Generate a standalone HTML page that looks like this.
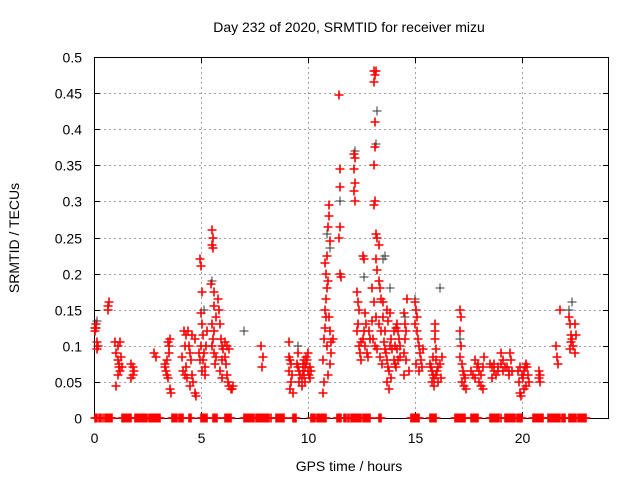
<!DOCTYPE html>
<html><head><meta charset="utf-8"><style>
html,body{margin:0;padding:0;background:#fff;}
svg{display:block;font-family:"Liberation Sans",sans-serif;}
</style></head><body>
<svg id="chart" width="640" height="480" viewBox="0 0 640 480">
<rect width="640" height="480" fill="#fff"/>
<g id="grid"></g>
<g id="ticks"></g>
<rect x="94.5" y="57.5" width="514" height="361" fill="none" stroke="#000" stroke-width="1"/>
<g id="marks"></g>
<text x="349" y="32" text-anchor="middle" font-size="14">Day 232 of 2020, SRMTID for receiver mizu</text>
<text x="349" y="471" text-anchor="middle" font-size="14">GPS time / hours</text>
<text transform="translate(19,238) rotate(-90)" text-anchor="middle" font-size="14">SRMTID / TECUs</text>
</svg>
<script>
const xTicks = [0, 5, 10, 15, 20];
const yTicks = [0, 0.05, 0.1, 0.15, 0.2, 0.25, 0.3, 0.35, 0.4, 0.45, 0.5];
const yTickLabels = ["0","0.05","0.1","0.15","0.2","0.25","0.3","0.35","0.4","0.45","0.5"];
const zeroHours = [0.05,0.1,0.15,0.25,0.3,0.35,0.4,0.5,0.55,0.6,0.65,0.7,0.75,0.8,0.85,1.3,1.35,1.4,1.45,1.5,1.55,1.6,1.65,1.7,1.75,1.9,1.95,2.0,2.05,2.1,2.15,2.2,2.25,2.3,2.35,2.4,2.45,2.5,2.55,2.6,2.65,2.7,2.75,2.8,2.85,2.9,2.95,3.0,3.05,3.1,3.65,3.7,3.75,3.8,3.85,3.9,3.95,4.0,4.05,4.1,4.15,4.45,4.5,4.55,5.0,5.05,5.1,5.15,5.2,5.25,5.3,5.55,5.6,5.65,5.7,5.75,6.1,6.15,6.2,6.25,6.3,6.35,6.4,7.0,7.05,7.1,7.15,7.2,7.25,7.3,7.35,7.4,7.45,7.5,7.55,7.6,7.65,7.7,7.75,7.8,7.85,7.9,7.95,8.0,8.05,8.1,8.15,8.2,8.25,8.5,8.55,8.6,8.65,8.7,8.75,8.8,8.85,8.9,9.3,9.35,9.4,9.45,10.15,10.2,10.25,10.3,10.35,10.4,10.45,10.5,10.55,10.6,10.65,10.7,10.75,10.8,10.85,11.35,11.4,11.45,11.5,11.55,11.7,11.75,11.8,11.85,11.9,12.0,12.05,12.1,12.15,12.2,12.25,12.3,12.35,12.4,12.45,12.5,12.55,12.6,12.65,12.7,12.75,12.8,12.85,12.9,13.3,13.35,13.4,14.8,14.85,14.9,14.95,15.0,15.05,15.1,15.15,15.2,15.7,15.75,15.8,15.85,15.9,15.95,16.0,16.85,16.9,16.95,17.0,17.05,17.1,17.15,17.2,17.25,17.3,17.35,17.6,17.65,17.7,17.75,17.8,17.85,17.9,17.95,18.5,18.55,18.6,18.65,18.7,18.75,18.8,18.85,18.9,18.95,19.0,19.2,19.25,19.3,19.35,19.4,19.45,19.5,19.55,19.6,19.65,19.7,19.75,19.8,19.85,19.9,19.95,20.0,20.5,20.55,20.6,20.65,20.7,20.75,20.8,20.85,20.9,20.95,21.0,21.2,21.25,21.3,21.35,21.4,21.45,21.5,21.55,21.6,21.65,21.7,21.75,21.8,21.85,21.9,21.95,22.0,22.2,22.25,22.3,22.35,22.4,22.45,22.5,22.55,22.6,22.65,22.7,22.75,22.8,22.85,22.9,22.95,23.0];
const blackHours = [0.1,5.5,5.1,10.9,10.85,11.5,12.2,13.2,13.15,12.6,13.6,14.5,15.0,16.15,17.1,22.3,22.2,7.0,11.0,13.5,9.5,13.8];
const blackValues = [0.135,0.19,0.15,0.265,0.255,0.3,0.37,0.425,0.38,0.195,0.225,0.14,0.165,0.18,0.11,0.16,0.15,0.12,0.235,0.22,0.1,0.18];
const redPoints = [
[0.05,0.12],[0.1,0.125],[0.1,0.13],[0.15,0.105],[0.2,0.1],[0.15,0.095],[0.05,0.125],
[0.65,0.15],[0.7,0.16],[0.65,0.155],
[1.0,0.105],[1.1,0.1],[1.2,0.105],[1.05,0.09],[1.1,0.08],[1.15,0.07],[1.2,0.065],[1.1,0.06],[1.05,0.045],[1.25,0.085],[1.15,0.075],[1.3,0.07],
[1.75,0.075],[1.8,0.07],[1.85,0.065],[1.8,0.06],[1.75,0.055],
[2.8,0.09],[2.9,0.085],
[3.3,0.07],[3.35,0.065],[3.4,0.06],[3.45,0.105],[3.5,0.1],[3.55,0.11],[3.5,0.09],[3.4,0.08],[3.55,0.04],[3.6,0.035],[3.45,0.055],[3.3,0.075],
[4.1,0.085],[4.2,0.12],[4.3,0.115],[4.25,0.1],[4.15,0.065],[4.25,0.06],[4.35,0.055],[4.3,0.07],[4.45,0.1],[4.5,0.09],[4.55,0.08],[4.6,0.06],[4.65,0.05],[4.7,0.035],[4.75,0.03],[4.5,0.045],[4.6,0.115],[4.7,0.11],[4.4,0.12],
[4.95,0.22],[5.0,0.21],[5.05,0.175],[5.0,0.145],[5.05,0.13],[5.1,0.115],[5.0,0.1],[5.15,0.09],[5.1,0.08],[5.2,0.07],[5.25,0.1],[4.9,0.09],[4.95,0.08],[5.3,0.12],[5.2,0.06],[5.05,0.065],
[5.5,0.26],[5.55,0.25],[5.55,0.235],[5.5,0.24],[5.45,0.185],[5.6,0.175],[5.5,0.13],[5.6,0.12],[5.55,0.11],[5.5,0.1],[5.6,0.09],[5.7,0.085],[5.65,0.075],[5.7,0.14],[5.6,0.155],
[5.8,0.165],[5.85,0.15],[5.9,0.13],[5.95,0.11],[6.0,0.1],[6.05,0.095],[6.1,0.085],[6.0,0.08],[6.15,0.075],[6.2,0.06],[6.25,0.05],[6.3,0.045],[6.4,0.04],[6.5,0.045],[6.45,0.04],[6.1,0.105],[6.2,0.1],[6.3,0.095],[5.9,0.065],[6.0,0.055],
[7.8,0.1],[7.9,0.085],[7.85,0.07],
[9.1,0.085],[9.15,0.08],[9.2,0.075],[9.1,0.065],[9.25,0.06],[9.2,0.05],[9.15,0.04],[9.3,0.035],[9.1,0.105],
[9.5,0.075],[9.55,0.07],[9.6,0.065],[9.65,0.06],[9.7,0.055],[9.75,0.065],[9.8,0.06],[9.85,0.07],[9.9,0.075],[9.95,0.08],[10.0,0.065],[10.05,0.06],[10.1,0.055],[9.6,0.05],[9.7,0.045],[9.8,0.08],[9.9,0.085],[10.0,0.09],[10.1,0.07],[9.55,0.09],[9.75,0.075],[9.85,0.05],[10.15,0.065],
[10.7,0.035],[10.75,0.05],[10.7,0.08],[10.75,0.11],[10.8,0.125],[10.85,0.14],[10.8,0.15],[10.85,0.165],[10.9,0.18],[10.85,0.2],[10.8,0.215],[10.9,0.225],[10.95,0.19],[11.0,0.295],[11.0,0.28],[10.95,0.265],[11.05,0.245],[11.0,0.14],[11.05,0.12],[10.9,0.1],[11.1,0.09],[11.05,0.075],[10.95,0.06],[11.15,0.11],[11.1,0.105],
[11.5,0.345],[11.5,0.32],[11.5,0.265],[11.45,0.25],[11.5,0.2],[11.55,0.195],[11.45,0.448],
[12.15,0.365],[12.2,0.36],[12.15,0.345],[12.2,0.325],[12.15,0.315],[12.2,0.3],
[12.3,0.175],[12.35,0.16],[12.4,0.15],[12.35,0.13],[12.3,0.12],[12.4,0.1],[12.45,0.09],[12.5,0.08],[12.55,0.11],[12.6,0.12],[12.65,0.145],[12.7,0.13],[12.6,0.22],[12.55,0.225],[12.65,0.1],[12.75,0.09],[12.8,0.085],[12.85,0.12],[12.9,0.11],[12.5,0.105],
[13.1,0.48],[13.15,0.475],[13.2,0.48],[13.1,0.465],[13.15,0.41],[13.15,0.375],[13.1,0.35],[13.15,0.3],[13.1,0.295],[13.2,0.255],[13.25,0.25],[13.3,0.24],[13.2,0.22],[13.25,0.205],[13.3,0.19],[13.35,0.18],[13.0,0.18],[13.1,0.16],[13.2,0.14],[13.3,0.13],[13.4,0.12],[13.05,0.11],[13.15,0.1],[13.25,0.095],[13.35,0.085],[13.45,0.075],[13.0,0.135],[13.4,0.165],[13.5,0.16],[13.5,0.14],
[13.55,0.105],[13.6,0.095],[13.65,0.09],[13.7,0.08],[13.75,0.07],[13.8,0.065],[13.85,0.1],[13.9,0.11],[13.95,0.095],[14.0,0.08],[14.05,0.075],[14.1,0.07],[13.7,0.05],[13.8,0.04],[13.9,0.055],[14.0,0.12],[14.1,0.125],[14.15,0.13],[14.2,0.12],[14.25,0.11],[14.3,0.1],[14.2,0.08],[14.3,0.085],[13.6,0.12],[13.75,0.135],[13.85,0.145],[13.7,0.15],[14.05,0.1],[14.15,0.095],
[14.5,0.145],[14.55,0.13],[14.6,0.12],[14.55,0.11],[14.65,0.165],[14.5,0.09],[14.6,0.08],[14.7,0.065],[14.5,0.06],
[15.0,0.16],[15.05,0.15],[15.1,0.14],[15.0,0.13],[15.1,0.12],[15.15,0.11],[15.2,0.1],[15.25,0.09],[15.3,0.08],[15.05,0.075],[15.2,0.065],[15.35,0.07],[15.4,0.095],
[15.7,0.075],[15.75,0.07],[15.8,0.065],[15.85,0.06],[15.9,0.055],[15.8,0.05],[15.9,0.045],[16.0,0.06],[16.05,0.065],[16.1,0.07],[16.15,0.075],[16.0,0.08],[15.85,0.085],[16.1,0.05],[16.2,0.055],[16.25,0.085],[15.95,0.12],[15.95,0.11],[15.95,0.13],[16.0,0.095],
[17.1,0.15],[17.15,0.14],[17.1,0.12],[17.15,0.1],[17.1,0.085],[17.2,0.075],[17.25,0.065],[17.3,0.06],[17.2,0.05],[17.3,0.045],[17.4,0.04],[17.35,0.055],
[17.6,0.065],[17.7,0.06],[17.8,0.055],[17.9,0.07],[17.95,0.075],[18.0,0.065],[18.1,0.06],[18.0,0.05],[18.1,0.045],[18.2,0.04],[17.8,0.08],[18.2,0.07],[18.25,0.085],
[18.5,0.075],[18.6,0.07],[18.7,0.065],[18.8,0.06],[18.9,0.065],[18.9,0.07],[19.0,0.075],[19.1,0.065],[18.7,0.075],[19.0,0.09],[19.1,0.08],[18.6,0.055],[19.2,0.07],
[19.3,0.07],[19.4,0.065],[19.45,0.09],[19.5,0.08],[19.4,0.06],[19.55,0.065],
[19.8,0.065],[19.9,0.07],[19.85,0.05],[19.9,0.035],[19.95,0.03],[20.0,0.06],[20.05,0.055],[20.1,0.065],[20.15,0.07],[20.2,0.075],[20.25,0.07],[20.3,0.06],[20.35,0.05],[20.2,0.045],[20.1,0.04],
[20.8,0.065],[20.85,0.06],[20.8,0.055],[20.85,0.05],
[21.6,0.1],[21.65,0.085],[21.7,0.075],[21.8,0.15],
[22.2,0.14],[22.25,0.13],[22.3,0.115],[22.3,0.105],[22.25,0.095],[22.4,0.1],[22.35,0.11],[22.5,0.13],[22.55,0.115],[22.5,0.09]
];
const NS='http://www.w3.org/2000/svg';
const X0=94,X1=609,Y0=418,Y1=57,XMAX=24.07,YMAX=0.5;
function xs(h){return X0+(X1-X0)*h/XMAX;}
function ys(v){return Y0-(Y0-Y1)*v/YMAX;}
const grid=document.getElementById('grid'),ticks=document.getElementById('ticks'),marks=document.getElementById('marks');
function mk(tag,attrs,parent){const e=document.createElementNS(NS,tag);for(const k in attrs)e.setAttribute(k,attrs[k]);parent.appendChild(e);return e;}
yTicks.forEach((v,i)=>{
  const y=Math.round(ys(v))+0.5;
  if(i>0&&i<yTicks.length-1){const g=mk('line',{x1:X0,x2:X1,y1:y,y2:y,stroke:'#a0a0a0','stroke-dasharray':'2,3'},grid);
  
  }
  mk('line',{x1:X0,x2:X0+6,y1:y,y2:y,stroke:'#000'},ticks);
  mk('line',{x1:X1-6,x2:X1,y1:y,y2:y,stroke:'#000'},ticks);
  const t=mk('text',{x:82,y:y+5,'text-anchor':'end','font-size':14},ticks);
  t.textContent=yTickLabels[i];
  
  
});
xTicks.forEach(h=>{
  const x=Math.round(xs(h))+0.5;
  if(h>0){const g=mk('line',{x1:x,x2:x,y1:Y1,y2:Y0,stroke:'#a0a0a0','stroke-dasharray':'2,3'},grid);
  
  }
  mk('line',{x1:x,x2:x,y1:Y0-6,y2:Y0,stroke:'#000'},ticks);
  mk('line',{x1:x,x2:x,y1:Y1,y2:Y1+6,stroke:'#000'},ticks);
  const t=mk('text',{x:x,y:443,'text-anchor':'middle','font-size':14},ticks);
  t.textContent=String(h);
  
  
});
function plus(h,v,color,w,name){
  const x=Math.round(xs(h)),y=Math.round(ys(v));
  const p=mk('path',{d:`M${x-4.5} ${y}H${x+4.5}M${x} ${y-4.5}V${y+4.5}`,stroke:color,'stroke-width':w,fill:'none'},marks);
  
  
}
blackHours.forEach((h,i)=>plus(h+0.02,blackValues[i],'#333',1,'black-point'));
zeroHours.forEach(h=>plus(h,0,'#f00',1.6,'zero-point'));
redPoints.forEach(p=>plus(p[0],p[1],'#f00',1.6,'red-point'));
</script>
</body></html>
